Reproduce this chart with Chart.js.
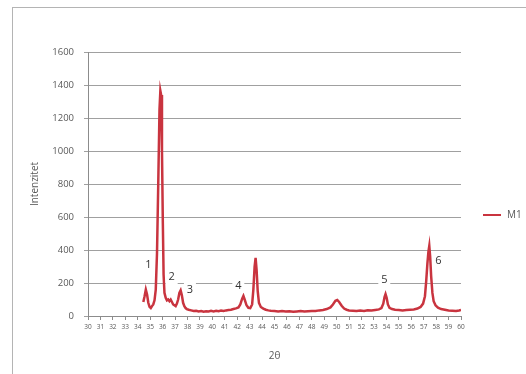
<!DOCTYPE html>
<html>
<head>
<meta charset="utf-8">
<script src="https://cdn.jsdelivr.net/npm/chart.js@4.4.1/dist/chart.umd.min.js"></script>
<style>
  html, body { margin: 0; padding: 0; background: #fff; }
  #wrap { position: relative; width: 526px; height: 374px; overflow: hidden; }
  #frame { position: absolute; left: 12px; top: 7px; width: 600px; height: 500px; border: 1px solid #b4b4b4; box-sizing: border-box; }
  canvas { position: absolute; left: 0; top: 0; }
</style>
</head>
<body>
<div id="wrap">
  <div id="frame"></div>
  <canvas id="xrd" width="526" height="374"></canvas>
</div>
<script>
const twoTheta = [
  34.45, 34.55, 34.65, 34.75, 34.85, 34.95, 35.05, 35.15, 35.25, 35.35,
  35.45, 35.55, 35.65, 35.75, 35.82, 35.88, 35.95, 36.02, 36.08, 36.15,
  36.25, 36.35, 36.45, 36.55, 36.65, 36.75, 36.85, 36.95, 37.05, 37.15,
  37.25, 37.35, 37.45, 37.55, 37.65, 37.75, 37.85, 37.95, 38.1, 38.3,
  38.5, 38.7, 38.9, 39.1, 39.3, 39.5, 39.7, 39.9, 40.1, 40.3,
  40.5, 40.7, 40.9, 41.1, 41.3, 41.5, 41.7, 41.9, 42.1, 42.25,
  42.4, 42.5, 42.6, 42.75, 42.9, 43.05, 43.2, 43.3, 43.4, 43.48,
  43.56, 43.65, 43.75, 43.9, 44.1, 44.3, 44.5, 44.7, 45.0, 45.3,
  45.6, 45.9, 46.2, 46.5, 46.8, 47.1, 47.4, 47.7, 48.0, 48.3,
  48.6, 48.9, 49.2, 49.5, 49.7, 49.9, 50.05, 50.2, 50.4, 50.6,
  50.8, 51.0, 51.3, 51.6, 51.9, 52.2, 52.5, 52.8, 53.1, 53.4,
  53.6, 53.75, 53.85, 53.93, 54.02, 54.12, 54.25, 54.45, 54.7, 55.0,
  55.3, 55.6, 55.9, 56.2, 56.5, 56.75, 56.95, 57.1, 57.2, 57.3,
  57.38, 57.45, 57.52, 57.6, 57.7, 57.8, 57.95, 58.15, 58.4, 58.7,
  59.0, 59.3, 59.6, 59.85, 60.0
];
const intensityM1 = [
  85, 120, 160, 130, 80, 55, 48, 60, 70, 95,
  160, 380, 800, 1250, 1365, 1340, 1000, 560, 250, 140,
  110, 95, 100, 90, 100, 85, 70, 65, 60, 75,
  100, 140, 155, 125, 80, 60, 48, 42, 38, 34,
  30, 32, 28, 30, 26, 29, 27, 31, 28, 32,
  29, 33, 30, 34, 36, 38, 42, 46, 52, 70,
  105, 122, 100, 65, 50, 48, 70, 160, 300, 352,
  280, 150, 80, 55, 45, 38, 34, 32, 30, 28,
  30, 27, 29, 26, 28, 30, 27, 29, 31, 30,
  34, 37, 42, 52, 70, 92, 97, 85, 62, 45,
  38, 34, 32, 30, 33, 31, 35, 34, 37, 40,
  48, 75, 115, 133, 110, 70, 50, 42, 38, 36,
  34, 36, 38, 40, 45, 55, 75, 120, 210, 320,
  390, 425, 360, 240, 140, 90, 65, 50, 42, 38,
  34, 32, 30, 33, 36
];
const seriesName = 'M1';

// peak numbers written on the plot, placed in data units
const peakNames = ['1', '2', '3', '4', '5', '6'];
const peakNameX = [34.85, 36.73, 38.2, 42.09, 53.83, 58.18];
const peakNameY = [309, 236, 158, 184, 218, 335];

const xMin = 30, xMax = 60;
const yMin = 0, yMax = 1600, yStep = 200;

const axisGray = '#8c8c8c';
const textGray = '#595959';
const lineRed = '#c9343f';

const peakLabelPlugin = {
  id: 'peakLabels',
  afterDatasetsDraw(chart) {
    const ctx = chart.ctx;
    const xs = chart.scales.x, ys = chart.scales.y;
    ctx.save();
    ctx.font = '11px "Open Sans", sans-serif';
    ctx.textAlign = 'center';
    ctx.textBaseline = 'middle';
    peakNames.forEach((name, i) => {
      const px = xs.getPixelForValue(peakNameX[i]);
      const py = ys.getPixelForValue(peakNameY[i]);
      ctx.fillStyle = '#ffffff';
      ctx.fillRect(px - 6, py - 7, 12, 14);
      ctx.fillStyle = '#333333';
      ctx.fillText(name, px, py);
    });
    ctx.restore();
  }
};

// Excel-like legend to the right of the plot
const sideLegendPlugin = {
  id: 'sideLegend',
  afterDraw(chart) {
    const ctx = chart.ctx;
    const area = chart.chartArea;
    const y = 215;
    const x0 = area.right + 22;
    ctx.save();
    ctx.strokeStyle = lineRed;
    ctx.lineWidth = 2;
    ctx.beginPath();
    ctx.moveTo(x0, y);
    ctx.lineTo(x0 + 18, y);
    ctx.stroke();
    ctx.fillStyle = textGray;
    ctx.font = '10px "Open Sans", sans-serif';
    ctx.textBaseline = 'middle';
    ctx.fillText(seriesName, x0 + 24, y);
    ctx.restore();
  }
};

const ctxXrd = document.getElementById('xrd').getContext('2d');
new Chart(ctxXrd, {
  type: 'line',
  data: {
    datasets: [{
      label: seriesName,
      data: twoTheta.map((t, i) => ({ x: t, y: intensityM1[i] })),
      borderColor: lineRed,
      borderWidth: 2.5,
      pointRadius: 0,
      tension: 0,
      fill: false
    }]
  },
  options: {
    responsive: false,
    animation: false,
    layout: { padding: { left: 0, top: 52, right: 65, bottom: 0 } },
    plugins: { legend: { display: false }, tooltip: { enabled: false } },
    scales: {
      x: {
        type: 'linear', min: xMin, max: xMax,
        afterFit: s => { s.height = 58; },
        border: { color: axisGray },
        grid: { display: true, drawOnChartArea: false, drawTicks: true, tickLength: 4, color: axisGray },
        ticks: { stepSize: 1, autoSkip: false, maxRotation: 0, padding: 3, color: textGray, font: { family: 'Open Sans', size: 6.5 }, callback: v => String(v) },
        title: { display: true, text: '2θ', color: textGray, font: { family: 'Open Sans', size: 10 }, padding: { top: 0, bottom: 12 } }
      },
      y: {
        min: yMin, max: yMax,
        afterFit: s => { s.width = 88; },
        border: { color: axisGray },
        grid: { color: '#a0a0a0', tickLength: 4 },
        ticks: { stepSize: yStep, padding: 10, color: textGray, font: { family: 'Open Sans', size: 9.5 }, callback: v => String(v) },
        title: { display: true, text: 'Intenzitet', color: textGray, font: { family: 'Open Sans', size: 10 }, padding: { top: 29, bottom: 0 } }
      }
    }
  },
  plugins: [peakLabelPlugin, sideLegendPlugin]
});
</script>
</body>
</html>
